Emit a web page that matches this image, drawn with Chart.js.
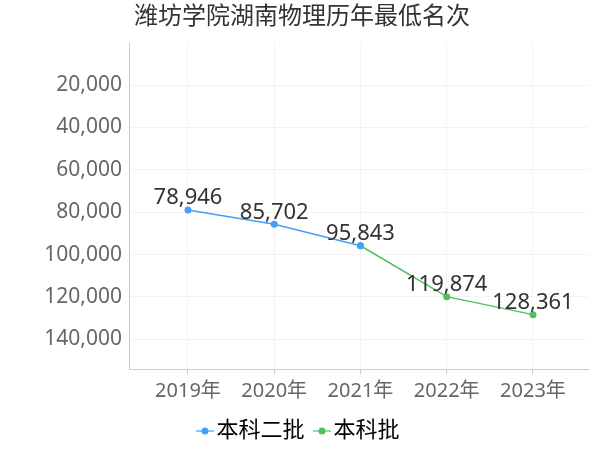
<!DOCTYPE html>
<html>
<head>
<meta charset="utf-8">
<script src="https://cdn.jsdelivr.net/npm/chart.js@4/dist/chart.umd.min.js"></script>
<style>
  html, body { margin: 0; padding: 0; background: #fff; }
  #wrap { width: 600px; height: 450px; }
</style>
</head>
<body>
<div id="wrap"><canvas id="rankChart" width="600" height="450"></canvas></div>
<script>
const years = ["2019年", "2020年", "2021年", "2022年", "2023年"];
const erpiValues = [78946, 85702, 95843, null, null];
const benkeValues = [null, null, 95843, 119874, 128361];
const yTicks = [20000, 40000, 60000, 80000, 100000, 120000, 140000];

const FONT = "'Noto Sans', 'Noto Sans CJK SC', sans-serif";
const BLUE = "#41a0fb";
const GREEN = "#4cc263";

const toPoints = (values) =>
  values.map((v, i) => (v === null ? null : { x: i, y: v })).filter(p => p);

const legendMarker = (color) => {
  const c = document.createElement("canvas");
  c.width = 18;
  c.height = 10;
  const g = c.getContext("2d");
  g.strokeStyle = color;
  g.globalAlpha = 0.6;
  g.lineWidth = 2;
  g.beginPath();
  g.moveTo(0, 5);
  g.lineTo(18, 5);
  g.stroke();
  g.globalAlpha = 1;
  g.fillStyle = color;
  g.beginPath();
  g.arc(9, 5, 3.5, 0, Math.PI * 2);
  g.fill();
  return c;
};

// value labels above each point, shared points labelled once
const pointLabels = {
  id: "pointLabels",
  afterDatasetsDraw(chart) {
    const ctx = chart.ctx;
    const done = new Set();
    ctx.save();
    ctx.font = "22px " + FONT;
    ctx.fillStyle = "#333";
    ctx.textAlign = "center";
    ctx.textBaseline = "middle";
    chart.data.datasets.forEach((ds, di) => {
      chart.getDatasetMeta(di).data.forEach((pt, i) => {
        const key = ds.data[i].x + ":" + ds.data[i].y;
        if (done.has(key)) return;
        done.add(key);
        ctx.fillText(ds.data[i].y.toLocaleString("en-US"), pt.x, pt.y - 12);
      });
    });
    ctx.restore();
  }
};

const ctx = document.getElementById("rankChart").getContext("2d");
new Chart(ctx, {
  type: "line",
  data: {
    datasets: [
      {
        label: "本科二批",
        data: toPoints(erpiValues),
        borderColor: BLUE,
        backgroundColor: BLUE,
        borderWidth: 1.5,
        pointRadius: 3.5,
        pointHoverRadius: 3.5,
        pointBorderWidth: 0,
        tension: 0
      },
      {
        label: "本科批",
        data: toPoints(benkeValues),
        borderColor: GREEN,
        backgroundColor: GREEN,
        borderWidth: 1.5,
        pointRadius: 3.5,
        pointHoverRadius: 3.5,
        pointBorderWidth: 0,
        tension: 0
      }
    ]
  },
  options: {
    responsive: false,
    animation: false,
    layout: { padding: { left: 16, right: 12, top: 0, bottom: -2 } },
    plugins: {
      title: {
        display: true,
        text: "潍坊学院湖南物理历年最低名次",
        color: "#333",
        font: { family: FONT, size: 24, weight: "normal" },
        padding: { top: 3, bottom: 11 }
      },
      legend: {
        position: "bottom",
        labels: {
          color: "#333",
          font: { family: FONT, size: 22 },
          usePointStyle: true,
          boxWidth: 1,
          padding: 17,
          generateLabels: (chart) => chart.data.datasets.map((ds, i) => ({
            text: ds.label,
            fillStyle: ds.borderColor,
            strokeStyle: ds.borderColor,
            lineWidth: 0,
            pointStyle: legendMarker(ds.borderColor),
            datasetIndex: i,
            hidden: false
          }))
        }
      },
      tooltip: { enabled: false }
    },
    scales: {
      x: {
        type: "linear",
        min: -0.684,
        max: 4.638,
        grid: { color: "#f3f3f3", drawTicks: true, tickLength: 5, tickColor: "#ccc" },
        border: { color: "#ccc" },
        ticks: {
          stepSize: 1,
          includeBounds: false,
          color: "#666",
          font: { family: FONT, size: 20 },
          padding: 5,
          callback: (v) => years[v] !== undefined ? years[v] : ""
        },
        afterFit: (scale) => { scale.height = 34; }
      },
      y: {
        reverse: true,
        min: 0,
        max: 154033,
        grid: { color: "#f3f3f3", drawTicks: false },
        border: { color: "#ccc" },
        afterBuildTicks: (scale) => {
          scale.ticks = yTicks.map(v => ({ value: v }));
        },
        ticks: {
          color: "#666",
          font: { family: FONT, size: 21 },
          padding: 7,
          callback: (v) => v.toLocaleString("en-US")
        },
        afterFit: (scale) => { scale.width = 113; }
      }
    }
  },
  plugins: [pointLabels]
});
</script>
</body>
</html>
